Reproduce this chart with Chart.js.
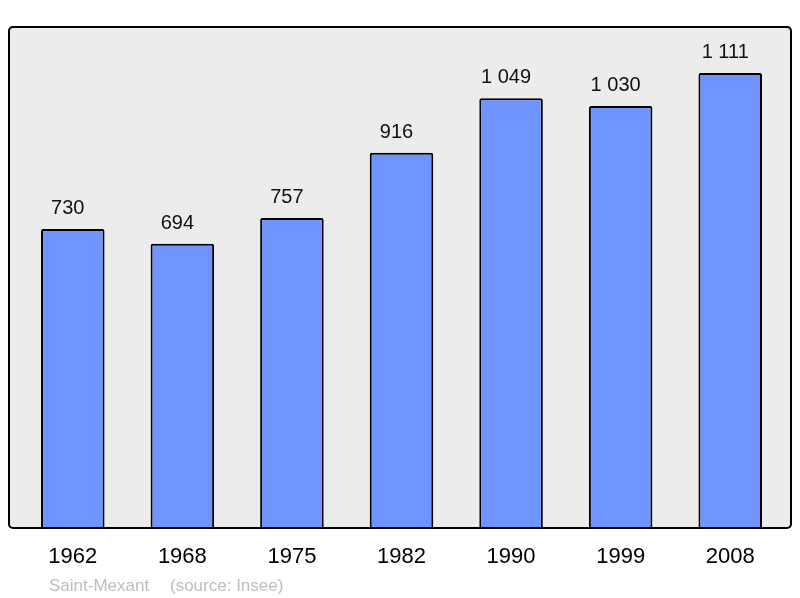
<!DOCTYPE html>
<html>
<head>
<meta charset="utf-8">
<script src="https://cdn.jsdelivr.net/npm/chart.js@4.4.1/dist/chart.umd.min.js"></script>
<style>
  html, body { margin: 0; padding: 0; background: #fff; }
  #wrap { width: 800px; height: 598px; }
</style>
</head>
<body>
<div id="wrap"><canvas id="popChart" width="800" height="598"></canvas></div>
<script>
const years = ['1962', '1968', '1975', '1982', '1990', '1999', '2008'];
const population = [730, 694, 757, 916, 1049, 1030, 1111];
const townName = 'Saint-Mexant';
const sourceText = '(source: Insee)';

function formatNumber(n) {
  return String(n).replace(/\B(?=(\d{3})+(?!\d))/g, ' ');
}

// grey panel behind the bars, black rounded frame drawn over them
const framePlugin = {
  id: 'frame',
  beforeDatasetsDraw(chart) {
    const { ctx, chartArea: a } = chart;
    ctx.save();
    ctx.beginPath();
    ctx.roundRect(a.left - 9, a.top, a.right - a.left + 15, a.bottom - a.top, 4);
    ctx.fillStyle = '#ececec';
    ctx.fill();
    ctx.restore();
  },
  afterDatasetsDraw(chart) {
    const { ctx, chartArea: a } = chart;
    ctx.save();
    ctx.beginPath();
    ctx.roundRect(a.left - 9, a.top, a.right - a.left + 15, a.bottom - a.top, 4);
    ctx.lineWidth = 2;
    ctx.strokeStyle = '#000';
    ctx.stroke();

    // values above bars (slightly left of bar centre, as in the original)
    ctx.fillStyle = '#111';
    ctx.font = '20px "Liberation Sans", Arial, sans-serif';
    ctx.textAlign = 'center';
    ctx.textBaseline = 'alphabetic';
    chart.getDatasetMeta(0).data.forEach((bar, i) => {
      ctx.fillText(formatNumber(population[i]), bar.x - 5, bar.y - 15);
    });

    // footer
    ctx.fillStyle = '#bdbdbd';
    ctx.font = '17px "Liberation Sans", Arial, sans-serif';
    ctx.textAlign = 'left';
    ctx.fillText(townName, a.left + 31, a.bottom + 63);
    ctx.fillText(sourceText, a.left + 152, a.bottom + 63);
    ctx.restore();
  }
};

new Chart(document.getElementById('popChart'), {
  type: 'bar',
  data: {
    labels: years,
    datasets: [{
      data: population,
      backgroundColor: '#7094ff',
      borderColor: '#000',
      borderWidth: 2,
      borderRadius: 2,
      categoryPercentage: 1,
      barPercentage: 0.58
    }]
  },
  options: {
    responsive: false,
    animation: false,
    devicePixelRatio: 1,
    layout: { padding: { left: 18, right: 15, top: 27, bottom: 11.6 } },
    plugins: { legend: { display: false }, tooltip: { enabled: false }, title: { display: false } },
    scales: {
      x: {
        grid: { display: false, drawTicks: false },
        border: { display: false },
        ticks: {
          color: '#000',
          padding: 16,
          font: { family: '"Liberation Sans", Arial, sans-serif', size: 22 }
        }
      },
      y: {
        display: false,
        min: 0,
        max: 1223
      }
    }
  },
  plugins: [framePlugin]
});
</script>
</body>
</html>
